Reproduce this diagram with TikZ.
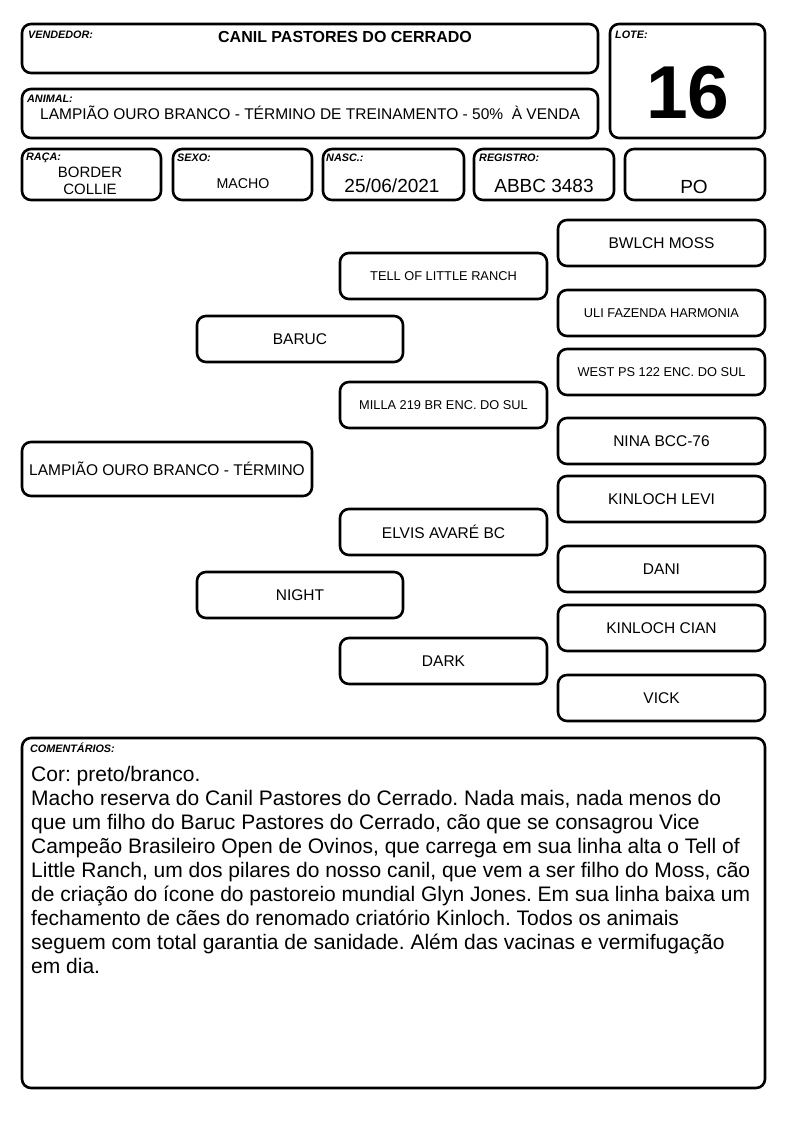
\documentclass[tikz,border=0pt]{standalone}
\usepackage{fontspec}
\usepackage{graphicx}
\setmainfont{Liberation Sans}
\frenchspacing
\tikzset{
  bx/.style={draw, line width=2.6pt, rounded corners=9pt, inner sep=0pt, align=center},
  lbl/.style={anchor=base west, inner sep=0pt, font=\fontsize{10.8}{12}\selectfont\bfseries\itshape},
  big/.style={font=\fontsize{15.5}{18}\selectfont},
  mid/.style={font=\fontsize{12.8}{15}\selectfont},
  val/.style={inner sep=0pt, font=\fontsize{19}{22}\selectfont},
}
\newcommand\rbox[6][]{%
  \node[bx,#1, minimum width={(#4-#2)*1pt}, minimum height={(#5-#3)*1pt}]
    at ({(#2+#4)/2},{-(#3+#5)/2}) (#6)}
\begin{document}
\begin{tikzpicture}[x=1pt,y=1pt]
\useasboundingbox (0,0) rectangle (794,-1123);
\fill[white] (0,0) rectangle (794,-1123);
% header boxes
\rbox{22}{24}{598}{73}{vend} {};
\rbox{22}{89}{598}{138}{anim} {};
\rbox{610}{24}{765}{138}{lote} {};
\rbox{22}{149}{161}{200}{raca} {};
\rbox{173}{149}{312}{200}{sexo} {};
\rbox{323}{149}{464}{200}{nasc} {};
\rbox{474}{149}{614}{200}{regi} {};
\rbox{625}{149}{765}{200}{po} {};
% labels
\node[lbl] (lvend) at (28,-39) {VENDEDOR:};
\node[lbl] (llote) at (615,-38.5) {LOTE:};
\node[lbl] (lanim) at (27,-103) {ANIMAL:};
\node[lbl] (lraca) at (26,-161) {RAÇA:};
\node[lbl] (lsexo) at (177,-162) {SEXO:};
\node[lbl] (lnasc) at (326,-162) {NASC.:};
\node[lbl] (lregi) at (479,-162) {REGISTRO:};
% values
\node[inner sep=0pt, font=\fontsize{16}{19}\selectfont\bfseries] (tvend) at (345,-37) {CANIL PASTORES DO CERRADO};
\node[inner sep=0pt, big] (tanim) at (310,-113) {LAMPIÃO OURO BRANCO - TÉRMINO DE TREINAMENTO - 50\%\ \ À VENDA};
\node[inner sep=0pt, font=\fontsize{75}{80}\selectfont\bfseries] (tlote) at (688,-93) {16};
\node[inner sep=0pt, align=center, font=\fontsize{15}{16.5}\selectfont] (traca) at (90,-181) {BORDER\\COLLIE};
\node[inner sep=0pt, font=\fontsize{14.2}{16}\selectfont] (tsexo) at (243,-184) {MACHO};
\node[val] (tnasc) at (392,-186) {25/06/2021};
\node[val] (tregi) at (544,-186) {ABBC 3483};
\node[val] (tpo) at (694,-187) {PO};
% pedigree
\rbox[big]{558}{220}{765}{266}{p1} {BWLCH MOSS};
\rbox[mid]{340}{253}{547}{299}{g1} {TELL OF LITTLE RANCH};
\rbox[mid]{558}{290}{765}{336}{p2} {ULI FAZENDA HARMONIA};
\rbox[big]{197}{316}{403}{362}{f1} {BARUC};
\rbox[mid]{558}{349}{765}{395}{p3} {WEST PS 122 ENC. DO SUL};
\rbox[mid]{340}{382}{547}{428}{g2} {MILLA 219 BR ENC. DO SUL};
\rbox[big]{558}{418}{765}{464}{p4} {NINA BCC-76};
\rbox[big]{22}{442}{312}{496}{self} {LAMPIÃO OURO BRANCO - TÉRMINO};
\rbox[big]{558}{476}{765}{522}{p5} {KINLOCH LEVI};
\rbox[big]{340}{509}{547}{555}{g3} {ELVIS AVARÉ BC};
\rbox[big]{558}{546}{765}{592}{p6} {DANI};
\rbox[big]{197}{572}{403}{618}{f2} {NIGHT};
\rbox[big]{558}{605}{765}{651}{p7} {KINLOCH CIAN};
\rbox[big]{340}{638}{547}{684}{g4} {DARK};
\rbox[big]{558}{675}{765}{721}{p8} {VICK};
% comments
\rbox{22}{738}{765}{1088}{com} {};
\node[lbl] (lcom) at (30,-752) {COMENTÁRIOS:};
\node[anchor=north west, inner sep=0pt, align=left, font=\fontsize{21}{24}\selectfont] (tcom) at (31,-764.9) {\strut Cor: preto/branco.\\
Macho reserva do Canil Pastores do Cerrado. Nada mais, nada menos do\\
que um filho do Baruc Pastores do Cerrado, cão que se consagrou Vice\\
Campeão Brasileiro Open de Ovinos, que carrega em sua linha alta o Tell of\\
Little Ranch, um dos pilares do nosso canil, que vem a ser filho do Moss, cão\\
de criação do ícone do pastoreio mundial Glyn Jones. Em sua linha baixa um\\
fechamento de cães do renomado criatório Kinloch. Todos os animais\\
seguem com total garantia de sanidade. Além das vacinas e vermifugação\\
em dia.};
\end{tikzpicture}
\end{document}
